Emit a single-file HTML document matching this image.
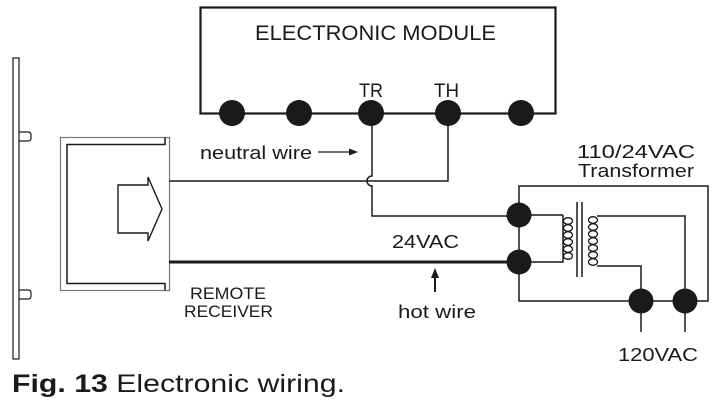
<!DOCTYPE html>
<html><head><style>body{margin:0;background:#fff}svg{display:block}</style></head><body>
<svg width="726" height="404" viewBox="0 0 726 404" xmlns="http://www.w3.org/2000/svg" font-family="Liberation Sans, sans-serif" fill="none" stroke="#1a1a1a">
<!-- wall bar -->
<rect x="13" y="58" width="6" height="301" stroke-width="1.2"/>
<path d="M19 132 h9 q3 0 3 3 v3 q0 3 -3 3 h-9 M19 290 h9 q3 0 3 3 v3 q0 3 -3 3 h-9" stroke-width="1.2"/>
<!-- receiver -->
<rect x="60.5" y="137.5" width="109" height="153" stroke="#777" stroke-width="1.2"/>
<path d="M165 137.5 v7 H67 v139 h98 v7" stroke-width="1.5"/>
<path d="M118 185 h30 v-8 l14 32 l-14 32 v-8 h-30 z" stroke-width="1.4"/>
<!-- module -->
<rect x="200.5" y="7.5" width="355" height="106" stroke-width="2.2"/>
<g fill="#1a1a1a" stroke="none">
<circle cx="232" cy="113" r="13"/><circle cx="299" cy="113" r="13"/><circle cx="371" cy="113" r="13"/><circle cx="448" cy="113" r="13"/><circle cx="521" cy="113" r="13"/>
<circle cx="519" cy="215" r="12.5"/><circle cx="519" cy="262" r="12.5"/><circle cx="641" cy="301" r="12.5"/><circle cx="685" cy="301" r="12.5"/>
</g>
<!-- wires -->
<path d="M169 181 H448 V113" stroke-width="1.5"/>
<path d="M372 113 V176 a5 5 0 0 0 0 10 V216 H519" stroke-width="1.5"/>
<path d="M169 262 H519" stroke-width="3"/>
<!-- transformer frame -->
<path d="M519 215 V186 H708 V301 H519 V262 V215" stroke-width="1.5"/>
<path d="M519 215 H563 M519 262 H563 V215" stroke-width="1.5"/>
<path d="M597 216 H685 V301 M597 266 H641 V301 M641 301 V332 M685 301 V332" stroke-width="1.5"/>
<path d="M577 202 V277 M582 202 V277" stroke-width="1.5"/>
<g stroke-width="1.3">
<ellipse cx="568" cy="221" rx="4.5" ry="3.3"/><ellipse cx="568" cy="228" rx="4.5" ry="3.3"/><ellipse cx="568" cy="235" rx="4.5" ry="3.3"/><ellipse cx="568" cy="242" rx="4.5" ry="3.3"/><ellipse cx="568" cy="249" rx="4.5" ry="3.3"/><ellipse cx="568" cy="256" rx="4.5" ry="3.3"/>
<ellipse cx="593" cy="220" rx="4.5" ry="3.3"/><ellipse cx="593" cy="227" rx="4.5" ry="3.3"/><ellipse cx="593" cy="234" rx="4.5" ry="3.3"/><ellipse cx="593" cy="241" rx="4.5" ry="3.3"/><ellipse cx="593" cy="248" rx="4.5" ry="3.3"/><ellipse cx="593" cy="255" rx="4.5" ry="3.3"/><ellipse cx="593" cy="262" rx="4.5" ry="3.3"/>
</g>
<!-- arrows -->
<path d="M318 152 H350" stroke-width="1.3"/><path d="M358 152 l-9 -3.5 v7 z" fill="#1a1a1a" stroke="none"/>
<path d="M435 292 V276" stroke-width="2"/><path d="M435 268 l-4 10 h8 z" fill="#1a1a1a" stroke="none"/>
<!-- text -->
<g fill="#1a1a1a" stroke="none" font-size="18">
<text x="255" y="40" font-size="21" textLength="241" lengthAdjust="spacingAndGlyphs">ELECTRONIC MODULE</text>
<text x="359" y="97" font-size="19" textLength="24" lengthAdjust="spacingAndGlyphs">TR</text>
<text x="434" y="97" font-size="19" textLength="25" lengthAdjust="spacingAndGlyphs">TH</text>
<text x="200" y="159" font-size="18" textLength="112" lengthAdjust="spacingAndGlyphs">neutral wire</text>
<text x="577" y="158" font-size="18" textLength="118" lengthAdjust="spacingAndGlyphs">110/24VAC</text>
<text x="578" y="177" font-size="18" textLength="116" lengthAdjust="spacingAndGlyphs">Transformer</text>
<text x="392" y="248" font-size="18" textLength="67" lengthAdjust="spacingAndGlyphs">24VAC</text>
<text x="398" y="318" font-size="18" textLength="78" lengthAdjust="spacingAndGlyphs">hot wire</text>
<text x="190" y="299" font-size="17" textLength="76" lengthAdjust="spacingAndGlyphs">REMOTE</text>
<text x="184" y="317" font-size="17" textLength="89" lengthAdjust="spacingAndGlyphs">RECEIVER</text>
<text x="618" y="361" font-size="18" textLength="80" lengthAdjust="spacingAndGlyphs">120VAC</text>
<text x="12" y="392" font-size="25" textLength="333" lengthAdjust="spacingAndGlyphs"><tspan font-weight="bold">Fig. 13</tspan> Electronic wiring.</text>
</g>
</svg>
</body></html>
